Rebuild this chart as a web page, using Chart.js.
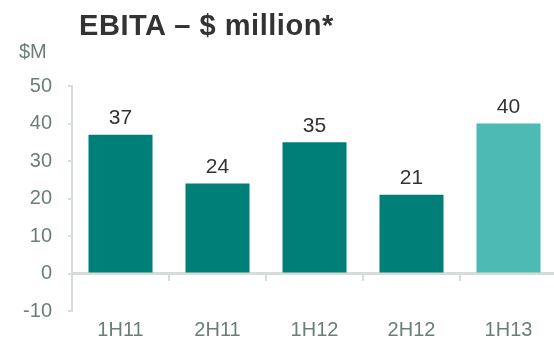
<!DOCTYPE html>
<html>
<head>
<meta charset="utf-8">
<script src="https://cdn.jsdelivr.net/npm/chart.js"></script>
<style>
    body { margin: 0; background: #fff; }
    #wrap { position: relative; width: 554px; height: 345px; overflow: hidden; }
    #title { position: absolute; left: 79px; top: 11px; font: bold 29px "Liberation Sans", Arial, sans-serif; letter-spacing: 0.55px; line-height: 1; color: #333; white-space: nowrap; }
    #unit { position: absolute; left: 19px; top: 41px; font: 20px "Liberation Sans", Arial, sans-serif; line-height: 1; color: #6b7f77; }
</style>
</head>
<body>
<div id="wrap">
    <!-- a few px wider than the window: the zero line runs off the right edge -->
    <canvas id="chart" width="557" height="345"></canvas>
    <div id="title">EBITA – $ million*</div>
    <div id="unit">$M</div>
</div>
<script>
    const categories = ["1H11", "2H11", "1H12", "2H12", "1H13"]
    const ebitaValues = [37, 24, 35, 21, 40]
    const barColors = ["#007f78", "#007f78", "#007f78", "#007f78", "#4dbab4"]
    const yTicks = [-10, 0, 10, 20, 30, 40, 50]

    const axisColor = "#d6ddd8"
    const tickColor = "#6b7f77"
    const font = "'Liberation Sans', Arial, sans-serif"

    // value labels over the bars
    const barLabels = {
        id: "barLabels",
        afterDatasetsDraw(chart) {
            const ctx = chart.ctx
            const meta = chart.getDatasetMeta(0)
            ctx.save()
            ctx.fillStyle = "#333"
            ctx.font = `21px ${font}`
            ctx.textAlign = "center"
            ctx.textBaseline = "bottom"
            meta.data.forEach((bar, i) => {
                ctx.fillText(ebitaValues[i], bar.x, bar.y - 6)
            })
            ctx.restore()
        }
    }

    new Chart(document.getElementById("chart").getContext("2d"), {
        type: "bar",
        data: {
            labels: categories,
            datasets: [{
                data: ebitaValues,
                backgroundColor: barColors,
                categoryPercentage: 1,
                barPercentage: 0.66,
                xAxisID: "x"
            }]
        },
        options: {
            responsive: false,
            animation: false,
            layout: {padding: {top: 86, left: 22, right: 0, bottom: 0}},
            plugins: {legend: {display: false}, tooltip: {enabled: false}, title: {display: false}},
            scales: {
                x: {
                    type: "category",
                    position: "bottom",
                    offset: true,
                    border: {display: false},
                    grid: {display: false, drawTicks: false},
                    ticks: {color: tickColor, font: {family: font, size: 20}, padding: 7},
                    afterFit: s => { s.height = 34 }
                },
                x0: {
                    type: "category",
                    position: {y: 0},
                    offset: true,
                    border: {display: true, color: axisColor, width: 3},
                    grid: {offset: true, drawOnChartArea: false, drawTicks: true, tickLength: 6, color: axisColor, lineWidth: 2},
                    ticks: {display: false},
                    afterFit: s => { s.height = 0 }
                },
                y: {
                    min: -10,
                    max: 50,
                    afterBuildTicks: s => { s.ticks = yTicks.map(v => ({value: v})) },
                    border: {display: true, color: axisColor, width: 2},
                    grid: {drawOnChartArea: false, drawTicks: true, tickLength: 4, color: axisColor, lineWidth: 2},
                    ticks: {color: tickColor, font: {family: font, size: 20}, padding: 16},
                    afterFit: s => { s.width = 50 }
                }
            }
        },
        plugins: [barLabels]
    })
</script>
</body>
</html>
